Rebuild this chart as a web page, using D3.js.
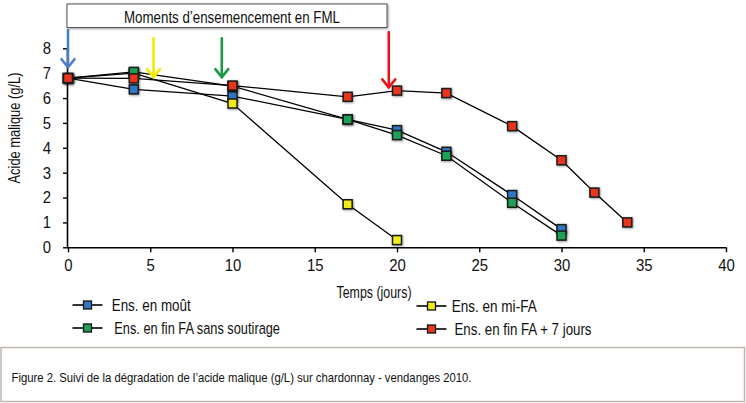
<!DOCTYPE html>
<html>
<head>
<meta charset="utf-8">
<script src="https://cdn.jsdelivr.net/npm/d3@7"></script>
<style>
  html, body { margin: 0; padding: 0; background: #fff; }
  svg { display: block; }
  text { font-family: "Liberation Sans", Arial, sans-serif; fill: #111; }
</style>
</head>
<body>
<svg id="chart" width="746" height="403"></svg>
<script>
// ---- data ----
const seriesNames = ["Ens. en moût", "Ens. en mi-FA", "Ens. en fin FA sans soutirage", "Ens. en fin FA + 7 jours"];
const seriesColors = ["#2f78c4", "#f2ec12", "#1ea157", "#e8361f"];
const daysMout   = [0, 4, 10, 17, 20, 23, 27, 30];
const valuesMout = [6.8, 6.35, 6.08, 5.14, 4.71, 3.84, 2.1, 0.73];
const daysMiFA   = [0, 4, 10, 17, 20];
const valuesMiFA = [6.8, 7.0, 5.78, 1.73, 0.29];
const daysFinFA   = [0, 4, 10, 17, 20, 23, 27, 30];
const valuesFinFA = [6.8, 7.05, 6.48, 5.14, 4.51, 3.68, 1.79, 0.47];
const daysFin7   = [0, 4, 10, 17, 20, 23, 27, 30, 32, 34];
const valuesFin7 = [6.8, 6.79, 6.5, 6.05, 6.3, 6.2, 4.87, 3.5, 2.2, 1.0];
const xTicks = [0, 5, 10, 15, 20, 25, 30, 35, 40];
const yTicks = [0, 1, 2, 3, 4, 5, 6, 7, 8];
// seeding moments (arrows): day, top value, bottom value
const arrowDays   = [0, 5.2, 9.35, 19.5];
const arrowTops   = [8.73, 8.4, 8.4, 8.65];
const arrowBottoms= [7.24, 6.84, 6.84, 6.43];
const arrowColors = ["#4a7ec6", "#f4ea00", "#1a9a48", "#e8161b"];
const titleText = "Moments d\u2019ensemencement en FML";
const xLabel = "Temps (jours)";
const yLabel = "Acide malique (g/L)";
const caption = "Figure 2. Suivi de la dégradation de l\u2019acide malique (g/L) sur chardonnay - vendanges 2010.";

const series = [
  {name: seriesNames[0], color: seriesColors[0], days: daysMout, values: valuesMout},
  {name: seriesNames[1], color: seriesColors[1], days: daysMiFA, values: valuesMiFA},
  {name: seriesNames[2], color: seriesColors[2], days: daysFinFA, values: valuesFinFA},
  {name: seriesNames[3], color: seriesColors[3], days: daysFin7, values: valuesFin7}
];

// condensed look: squeeze text to a given width
function fit(sel, w) {
  return sel.attr("textLength", w).attr("lengthAdjust", "spacingAndGlyphs");
}

const svg = d3.select("#chart");
const defs = svg.append("defs");
const f = defs.append("filter").attr("id", "shadow").attr("x", "-50%").attr("y", "-50%").attr("width", "200%").attr("height", "200%");
f.append("feDropShadow").attr("dx", 0.8).attr("dy", 0.8).attr("stdDeviation", 0.8).attr("flood-color", "#000").attr("flood-opacity", 0.45);

const x = d3.scaleLinear().domain([0, 40]).range([68, 726]);
const y = d3.scaleLinear().domain([0, 8]).range([247.3, 48.3]);

// title box
svg.append("rect").attr("x", 67).attr("y", 4).attr("width", 320).attr("height", 23.5)
  .attr("fill", "#fff").attr("stroke", "#555").attr("stroke-width", 1).attr("filter", "url(#shadow)");
fit(svg.append("text").attr("x", 124).attr("y", 22.5)
  .style("font-size", "16.3px").text(titleText), 216);

// axes
const yAxis = d3.axisLeft(y).tickValues(yTicks).tickSize(5).tickPadding(12).tickFormat(d3.format("d"));
const gy = svg.append("g").attr("transform", `translate(${x(0)},0)`).call(yAxis);
const xAxis = d3.axisBottom(x).tickValues(xTicks).tickSize(5).tickPadding(7).tickFormat(d3.format("d"));
const gx = svg.append("g").attr("transform", `translate(0,${y(0)})`).call(xAxis);
[gx, gy].forEach(g => {
  g.select(".domain").attr("stroke", "#000").attr("stroke-width", 1.6);
  g.selectAll(".tick line").attr("stroke", "#000").attr("stroke-width", 1.4);
  g.selectAll(".tick text").style("font-size", "16.8px").attr("fill", "#111")
    .each(function(d) { fit(d3.select(this), String(d).length * 8.3); });
});
gx.select(".domain").attr("d", `M${x(0)},0.5H${x(40)}`);
gy.select(".domain").attr("d", `M-0.5,${y(0)}V${y(8)}`);

// axis labels
fit(svg.append("text").attr("transform", `translate(20,128) rotate(-90)`)
  .attr("text-anchor", "middle").style("font-size", "16px").text(yLabel), 111);
fit(svg.append("text").attr("x", 336.5).attr("y", 298)
  .style("font-size", "16px").text(xLabel), 75);

// lines
const line = d3.line().x(d => x(d[0])).y(d => y(d[1]));
const gLines = svg.append("g");
series.forEach(s => {
  const pts = s.days.map((d, i) => [d, s.values[i]]);
  gLines.append("path").attr("d", line(pts)).attr("fill", "none").attr("stroke", "#000").attr("stroke-width", 1.3);
});

// markers
const ms = 9;
series.forEach(s => {
  svg.append("g").selectAll("rect").data(s.days.map((d, i) => [d, s.values[i]])).join("rect")
    .attr("x", d => x(d[0]) - ms/2).attr("y", d => y(d[1]) - ms/2)
    .attr("width", ms).attr("height", ms)
    .attr("fill", s.color).attr("stroke", "#1a1a1a").attr("stroke-width", 1.5)
    .attr("filter", "url(#shadow)");
});

// arrows
arrowDays.forEach((d, i) => {
  const ax = x(d), y1 = y(arrowTops[i]), y2 = y(arrowBottoms[i]);
  const g = svg.append("g").attr("stroke", arrowColors[i]).attr("stroke-width", 2.6).attr("fill", "none").attr("stroke-linecap", "round");
  g.append("line").attr("x1", ax).attr("x2", ax).attr("y1", y1).attr("y2", y2 - 1);
  g.append("path").attr("d", `M${ax - 6.5},${y2 - 8}L${ax},${y2}L${ax + 6.5},${y2 - 8}`).attr("stroke-linejoin", "miter");
});

// legend
const legendPos = [
  {lx: 72.5, ly: 305, tx: 111.7, w: 79},
  {lx: 416.5, ly: 306, tx: 451.7, w: 85},
  {lx: 72.5, ly: 328, tx: 114.3, w: 165.7},
  {lx: 416.5, ly: 329, tx: 454.5, w: 137}
];
legendPos.forEach((p, i) => {
  const s = series[i];
  const g = svg.append("g");
  g.append("line").attr("x1", p.lx).attr("x2", p.lx + 30).attr("y1", p.ly).attr("y2", p.ly)
    .attr("stroke", "#000").attr("stroke-width", 1.6);
  g.append("rect").attr("x", p.lx + 15 - 4).attr("y", p.ly - 4).attr("width", 8).attr("height", 8)
    .attr("fill", s.color).attr("stroke", "#111").attr("stroke-width", 1.3);
  fit(g.append("text").attr("x", p.tx).attr("y", p.ly + 6).style("font-size", "16.3px").text(s.name), p.w);
});

// caption box
svg.append("rect").attr("x", 1).attr("y", 347.5).attr("width", 743.5).attr("height", 54)
  .attr("fill", "#fff").attr("stroke", "#bfb8b1").attr("stroke-width", 1.5);
fit(svg.append("text").attr("x", 11.5).attr("y", 382.3).style("font-size", "12.4px").text(caption), 460);
</script>
</body>
</html>
